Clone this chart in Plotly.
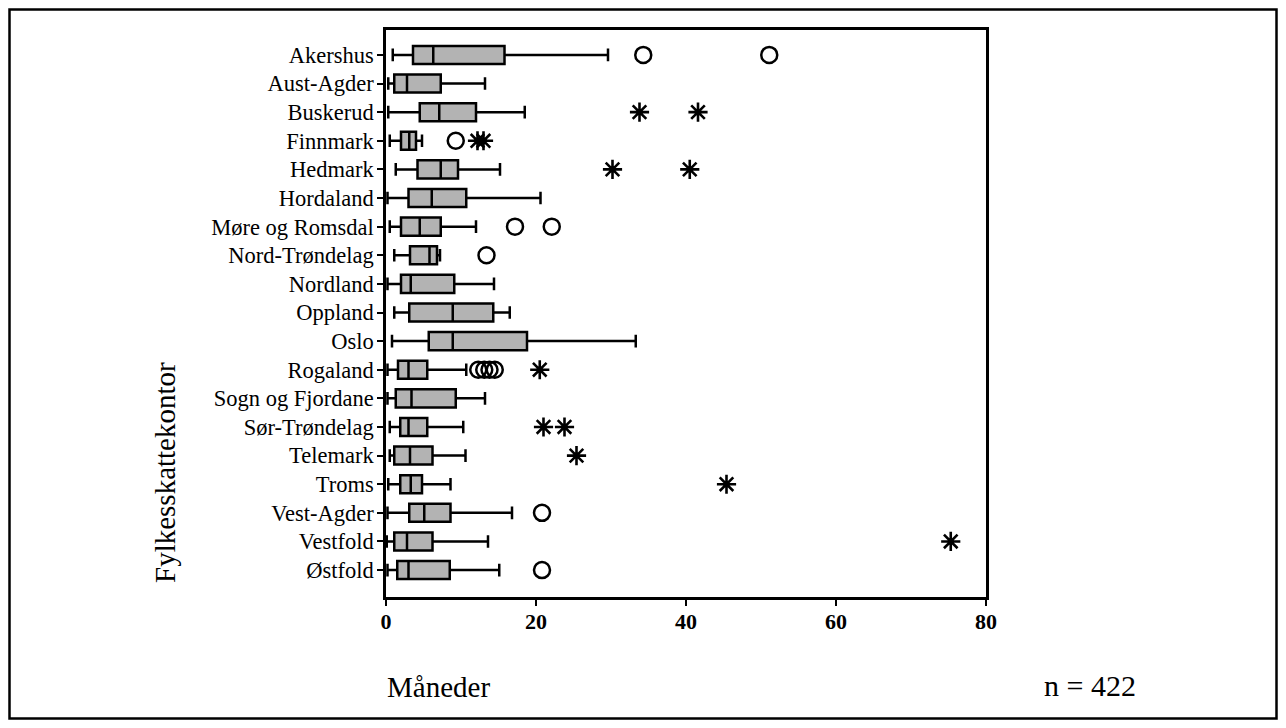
import plotly.graph_objects as go

categories = ["Akershus", "Aust-Agder", "Buskerud", "Finnmark", "Hedmark", "Hordaland",
              "Møre og Romsdal", "Nord-Trøndelag", "Nordland", "Oppland", "Oslo", "Rogaland",
              "Sogn og Fjordane", "Sør-Trøndelag", "Telemark", "Troms", "Vest-Agder",
              "Vestfold", "Østfold"]
lower_whisker = [0.9, 0.3, 0.3, 0.5, 1.3, 0.2, 0.5, 1.1, 0.2, 1.1, 0.8, 0.2, 0.2, 0.5, 0.5, 0.3, 0.2, 0.1, 0.2]
q1 = [3.6, 1.1, 4.5, 2.0, 4.2, 3.0, 2.0, 3.2, 2.0, 3.1, 5.7, 1.6, 1.3, 1.9, 1.1, 1.9, 3.1, 1.1, 1.5]
median = [6.3, 2.8, 7.1, 3.1, 7.3, 6.1, 4.5, 5.8, 3.3, 8.9, 8.9, 3.0, 3.4, 3.0, 3.2, 3.3, 5.1, 2.8, 3.0]
q3 = [15.8, 7.3, 12.0, 4.0, 9.6, 10.7, 7.3, 6.8, 9.1, 14.3, 18.8, 5.5, 9.3, 5.5, 6.2, 4.8, 8.6, 6.2, 8.5]
upper_whisker = [29.6, 13.2, 18.5, 4.8, 15.2, 20.6, 12.0, 7.2, 14.4, 16.5, 33.3, 10.7, 13.2, 10.3, 10.6, 8.6, 16.8, 13.6, 15.1]

circle_cat = ["Akershus", "Akershus", "Finnmark", "Møre og Romsdal", "Møre og Romsdal",
              "Nord-Trøndelag", "Rogaland", "Rogaland", "Rogaland", "Rogaland",
              "Vest-Agder", "Østfold"]
circle_val = [34.3, 51.1, 9.3, 17.2, 22.1, 13.4, 12.3, 13.1, 13.8, 14.5, 20.8, 20.8]

star_cat = ["Buskerud", "Buskerud", "Finnmark", "Finnmark", "Hedmark", "Hedmark",
            "Rogaland", "Sør-Trøndelag", "Sør-Trøndelag", "Telemark", "Troms", "Vestfold"]
star_val = [33.8, 41.6, 12.2, 13.0, 30.2, 40.5, 20.5, 21.0, 23.8, 25.4, 45.4, 75.3]

x_ticks = [0, 20, 40, 60, 80]

FONT = "Liberation Serif"
OFF = 8  # page body margin offset
W, H = 1270, 712

# plot area in page pixels: x 386..986, y 30..597
L, R, T, B = 386, 986, 30, 597
PW, PH = R - L, B - T


def px(x):
    return (x - L) / PW


def py(y):
    return (B - y) / PH


fig = go.Figure()
fig.add_trace(go.Box(
    y=categories, q1=q1, median=median, q3=q3,
    lowerfence=lower_whisker, upperfence=upper_whisker,
    orientation="h", fillcolor="#b3b3b3",
    line=dict(color="black", width=2.5), whiskerwidth=0.7,
    boxpoints=False, showlegend=False, hoverinfo="skip",
))
fig.add_trace(go.Scatter(
    x=circle_val, y=circle_cat, mode="markers", showlegend=False,
    marker=dict(symbol="circle-open", size=16, color="black", line=dict(width=2.5)),
))
fig.add_trace(go.Scatter(
    x=star_val, y=star_cat, mode="markers", showlegend=False,
    marker=dict(symbol="asterisk-open", size=16, color="black", line=dict(width=2.6)),
))

fig.update_layout(
    width=W, height=H,
    margin=dict(l=L - OFF, r=W - (R - OFF), t=T - OFF, b=H - (B - OFF)),
    paper_bgcolor="white", plot_bgcolor="white",
    boxgap=0.1,
    font=dict(family=FONT, color="black"),
    xaxis=dict(range=[0, 80], tickvals=x_ticks, ticks="outside", ticklen=6,
               tickwidth=2, tickcolor="black", showgrid=False, zeroline=False,
               showline=True, linecolor="black", linewidth=2.5, mirror=True,
               tickfont=dict(family=FONT, size=22, color="black", weight="bold"),
               ticklabelstandoff=-3),
    yaxis=dict(type="category", categoryorder="array", categoryarray=categories,
               range=[18.94, -0.87], ticks="outside", ticklen=6, tickwidth=2,
               tickcolor="black", showgrid=False, zeroline=False,
               showline=True, linecolor="black", linewidth=2.5, mirror=True,
               tickfont=dict(family=FONT, size=22.5, color="black"),
               ticklabelstandoff=-1),
    shapes=[dict(type="rect", xref="paper", yref="paper",
                 x0=px(OFF + 1.5), x1=px(OFF + W - 1.5),
                 y0=py(OFF + H - 1.5), y1=py(OFF + 1.5),
                 line=dict(color="black", width=2.5), fillcolor="rgba(0,0,0,0)", layer="below")],
    annotations=[
        dict(text="Fylkesskattekontor", xref="paper", yref="paper",
             x=px(165), y=py(473), textangle=-90,
             showarrow=False, xanchor="center", yanchor="middle",
             font=dict(family=FONT, size=29, color="black")),
        dict(text="Måneder", xref="paper", yref="paper",
             x=px(385), y=py(687),
             showarrow=False, xanchor="left", yanchor="middle",
             font=dict(family=FONT, size=29, color="black")),
        dict(text="n = 422", xref="paper", yref="paper",
             x=px(1090), y=py(685),
             showarrow=False, xanchor="center", yanchor="middle",
             font=dict(family=FONT, size=30, color="black")),
    ],
)

fig.write_html("out.html")
